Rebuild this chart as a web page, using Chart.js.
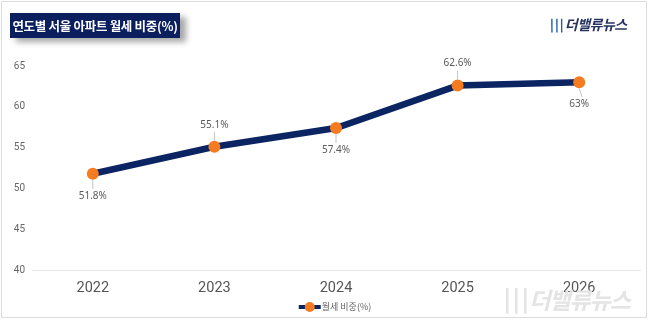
<!DOCTYPE html>
<html>

<head>
    <meta charset="UTF-8">
    <title>연도별 서울 아파트 월세 비중</title>
    <script src="https://cdn.jsdelivr.net/npm/chart.js"></script>
    <style>
        body { margin: 0; background: #fff; }
        #wrap {
            position: relative; width: 650px; height: 322px;
            font-family: "Noto Sans CJK KR", "Noto Sans", sans-serif;
        }
        #frame {
            position: absolute; left: 1px; top: 1px; width: 646px; height: 317px;
            border: 1px solid #dcdcdc; box-sizing: border-box; pointer-events: none;
        }
        #title {
            position: absolute; left: 10px; top: 13px; width: 170px; height: 25px;
            background: #0b1f5e; color: #fff; font-weight: bold; font-size: 12.5px;
            line-height: 25px; text-align: center; white-space: nowrap; letter-spacing: -0.3px;
            box-shadow: 6px 4px 6px rgba(0, 0, 0, 0.35);
        }
        #logo {
            position: absolute; left: 548px; top: 14px; color: #27345f;
            font-weight: bold; font-size: 14px; font-style: italic; letter-spacing: -0.5px;
        }
        #logo span { color: #1f5fae; margin-right: 2px; }
        #mark {
            position: absolute; left: 500px; top: 279px; color: #e4e4e4;
            font-weight: bold; font-size: 23px; font-style: italic; letter-spacing: -1px;
        }
        #mark span { font-size: 26px; margin-right: 2px; }
        canvas { position: absolute; left: 0; top: 0; }
    </style>
</head>

<body>
    <div id="wrap">
        <canvas id="chart" width="650" height="322"></canvas>
        <div id="mark"><span>\\\</span>더밸류뉴스</div>
        <div id="frame"></div>
        <div id="title">연도별 서울 아파트 월세 비중(%)</div>
        <div id="logo"><span>\\\</span>더밸류뉴스</div>
    </div>

    <script>
        // 연도별 월세 비중 (%)
        var years = ['2022', '2023', '2024', '2025', '2026'];
        var rentShare = [51.8, 55.1, 57.4, 62.6, 63];
        var yTicks = [40, 45, 50, 55, 60, 65];
        // 라벨을 점 위(-1) 또는 아래(1)에 표시
        var labelSide = [1, -1, 1, -1, 1];
        var seriesName = '월세 비중(%)';

        var lineColor = '#0b2462';
        var dotColor = '#f47b20';

        // 값 라벨 + 지시선, 하단 범례 그리기
        var valueLabels = {
            id: 'valueLabels',
            afterDatasetsDraw: function (chart) {
                var ctx = chart.ctx;
                var meta = chart.getDatasetMeta(0);
                ctx.save();
                ctx.font = '10px "Noto Sans", sans-serif';
                ctx.textAlign = 'center';
                ctx.textBaseline = 'middle';
                meta.data.forEach(function (pt, i) {
                    var s = labelSide[i];
                    ctx.strokeStyle = '#c4c4c4';
                    ctx.lineWidth = 1;
                    ctx.beginPath();
                    ctx.moveTo(pt.x, pt.y + s * 6);
                    ctx.lineTo(pt.x + (i == 4 ? 3 : 0), pt.y + s * 15);
                    ctx.stroke();
                    ctx.fillStyle = '#5a5a5a';
                    ctx.fillText(rentShare[i] + '%', pt.x, pt.y + s * 22);
                });

                // 범례
                var area = chart.chartArea;
                var cx = (area.left + area.right) / 2;
                var ly = area.bottom + 37;
                ctx.font = '9px "Noto Sans CJK KR", sans-serif';
                var tw = ctx.measureText(seriesName).width;
                var x0 = cx - (24 + 1 + tw) / 2;
                ctx.strokeStyle = lineColor;
                ctx.lineWidth = 4;
                ctx.beginPath();
                ctx.moveTo(x0, ly);
                ctx.lineTo(x0 + 22, ly);
                ctx.stroke();
                ctx.fillStyle = dotColor;
                ctx.beginPath();
                ctx.arc(x0 + 11, ly, 5, 0, Math.PI * 2);
                ctx.fill();
                ctx.fillStyle = '#666';
                ctx.textAlign = 'left';
                ctx.fillText(seriesName, x0 + 23, ly);
                ctx.restore();
            }
        };

        var ctx = document.getElementById('chart').getContext('2d');
        var myChart = new Chart(ctx, {
            type: 'line',
            data: {
                labels: years,
                datasets: [{
                    label: seriesName,
                    data: rentShare,
                    borderColor: lineColor,
                    backgroundColor: dotColor,
                    borderWidth: 6.5,
                    pointRadius: 6,
                    pointHoverRadius: 6,
                    pointBackgroundColor: dotColor,
                    pointBorderWidth: 0,
                    tension: 0
                }]
            },
            options: {
                responsive: false,
                animation: false,
                layout: { padding: { left: 0, right: 10, top: 66, bottom: 22 } },
                plugins: {
                    tooltip: { enabled: false },
                    legend: { display: false }
                },
                scales: {
                    x: {
                        offset: true,
                        grid: { display: false, drawTicks: false },
                        border: { display: true, color: '#e6e6e6' },
                        ticks: { color: '#555', font: { size: 14.5, family: 'Roboto' }, padding: 10 },
                        afterFit: function (axis) { axis.height = 30; }
                    },
                    y: {
                        min: 40,
                        max: 65,
                        afterBuildTicks: function (axis) {
                            axis.ticks = yTicks.map(function (v) { return { value: v }; });
                        },
                        grid: { display: false, drawTicks: false },
                        border: { display: false },
                        ticks: { color: '#666', font: { size: 10, family: 'Roboto' }, padding: 7 },
                        afterFit: function (axis) { axis.width = 32; }
                    }
                }
            },
            plugins: [valueLabels]
        });
    </script>
</body>

</html>
